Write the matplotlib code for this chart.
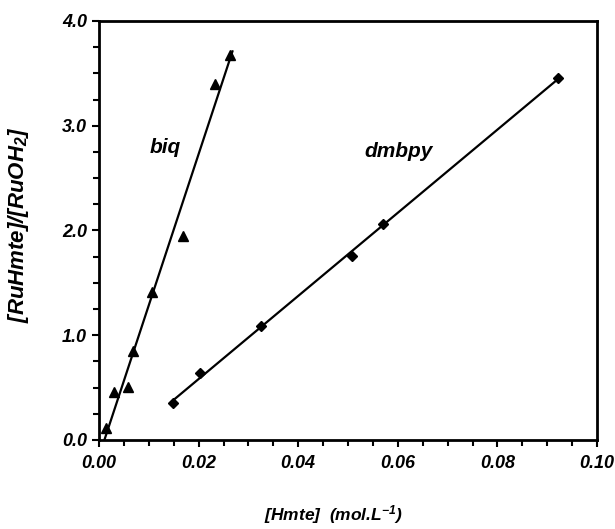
import matplotlib.pyplot as plt
import numpy as np
from matplotlib.ticker import MultipleLocator

plt.rcParams['font.family'] = ['Liberation Sans', 'DejaVu Sans']
plt.rcParams['mathtext.default'] = 'regular'

# biq series (triangles)
biq_x = [0.0015, 0.0031, 0.0058, 0.0069, 0.0106, 0.0168, 0.0233, 0.0264]
biq_y = [0.11, 0.46, 0.51, 0.85, 1.41, 1.95, 3.40, 3.68]

# dmbpy series (diamonds)
dmb_x = [0.0149, 0.0203, 0.0325, 0.0509, 0.0571, 0.0922]
dmb_y = [0.35, 0.64, 1.09, 1.76, 2.06, 3.46]

x_ticks = [0.00, 0.02, 0.04, 0.06, 0.08, 0.10]
y_ticks = [0.0, 1.0, 2.0, 3.0, 4.0]

fig = plt.figure(figsize=(6.15, 5.29), dpi=100)
ax = fig.add_axes([99/615, 89/529, 498/615, 419/529])

# linear fits
p1 = np.polyfit(biq_x, biq_y, 1)
fx1 = np.array([0.0009, 0.0268])
ax.plot(fx1, np.polyval(p1, fx1), color='black', lw=1.6)
p2 = np.polyfit(dmb_x, dmb_y, 1)
fx2 = np.array([min(dmb_x), max(dmb_x)])
ax.plot(fx2, np.polyval(p2, fx2), color='black', lw=1.6)

ax.plot(biq_x, biq_y, '^', color='black', ms=7, ls='none')
ax.plot(dmb_x, dmb_y, 'D', color='black', ms=5, ls='none')

ax.text(0.0134, 2.79, 'biq', fontsize=15, fontweight='bold', fontstyle='italic',
        ha='center', va='center')
ax.text(0.0601, 2.75, 'dmbpy', fontsize=15, fontweight='bold', fontstyle='italic',
        ha='center', va='center')

ax.set_xlim(0, 0.10)
ax.set_ylim(0, 4.0)
ax.set_xticks(x_ticks)
ax.set_xticklabels(['%.2f' % v for v in x_ticks])
ax.set_yticks(y_ticks)
ax.set_yticklabels(['%.1f' % v for v in y_ticks])
ax.xaxis.set_minor_locator(MultipleLocator(0.005))
ax.yaxis.set_minor_locator(MultipleLocator(0.25))
ax.tick_params(which='both', direction='out', width=1.5, labelsize=13)
ax.tick_params(which='major', length=5)
ax.tick_params(which='minor', length=4)
ax.tick_params(axis='x', which='both', pad=6)
for lab in ax.get_xticklabels() + ax.get_yticklabels():
    lab.set_fontweight('bold')
    lab.set_fontstyle('italic')
for s in ax.spines.values():
    s.set_linewidth(2)

ax.set_xlabel('[Hmte]  (mol.L$^{-1}$)', fontsize=12.5, fontweight='bold',
              fontstyle='italic')
ax.xaxis.set_label_coords(0.47, -0.15)
ax.set_ylabel('[RuHmte]/[RuOH$_2$]', fontsize=16, fontweight='bold',
              fontstyle='italic')
ax.yaxis.set_label_coords(-0.136, 0.515)

fig.savefig('out.png', dpi=100)
